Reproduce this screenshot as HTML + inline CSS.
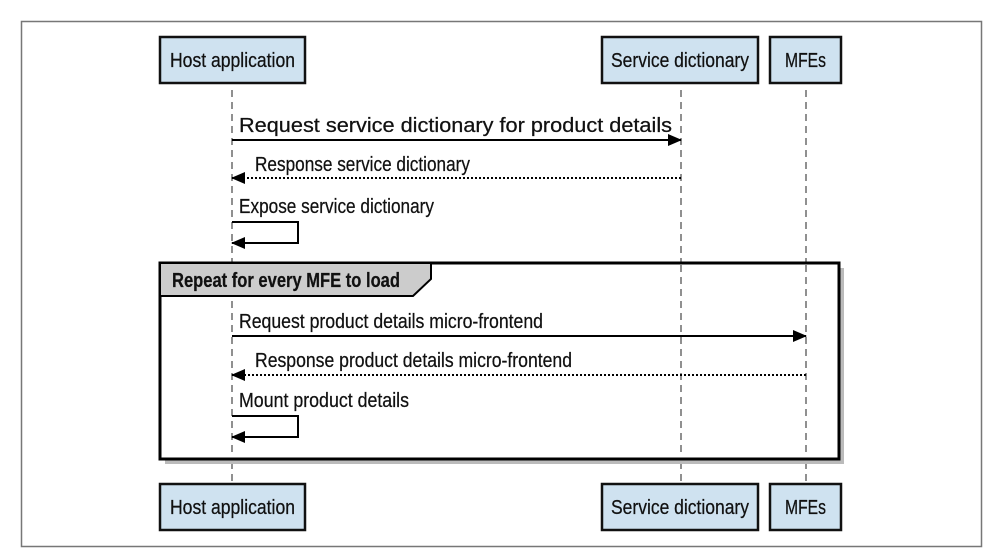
<!DOCTYPE html>
<html><head><meta charset="utf-8"><style>
html,body{margin:0;padding:0;background:#fff;}
svg{display:block;}
text{font-family:"Liberation Sans",sans-serif;font-size:20px;fill:#111;stroke:#111;stroke-width:0.25;}
</style></head><body>
<svg width="1002" height="560" viewBox="0 0 1002 560" xmlns="http://www.w3.org/2000/svg">
<defs>
<marker id="a" markerWidth="14" markerHeight="12" refX="13" refY="6" orient="auto" markerUnits="userSpaceOnUse"><path d="M0,0 L14,6 L0,12 Z" fill="#000"/></marker>
</defs>
<rect x="21.5" y="21.5" width="960" height="525" fill="#fff" stroke="#777" stroke-width="1.5"/>
<g stroke="#222" stroke-width="1" stroke-dasharray="7,5">
<line x1="232" y1="90" x2="232" y2="483"/>
<line x1="681" y1="90" x2="681" y2="483"/>
<line x1="806" y1="90" x2="806" y2="483"/>
</g>
<g fill="#cfe2f0" stroke="#111" stroke-width="2.5">
<rect x="160" y="37" width="145" height="46"/>
<rect x="602" y="37" width="156" height="46"/>
<rect x="770" y="37" width="71" height="46"/>
<rect x="160" y="484" width="145" height="46"/>
<rect x="602" y="484" width="156" height="46"/>
<rect x="770" y="484" width="71" height="46"/>
</g>
<text x="170" y="67" textLength="125" lengthAdjust="spacingAndGlyphs">Host application</text>
<text x="611" y="67" textLength="138" lengthAdjust="spacingAndGlyphs">Service dictionary</text>
<text x="785" y="67" textLength="41" lengthAdjust="spacingAndGlyphs">MFEs</text>
<text x="170" y="514" textLength="125" lengthAdjust="spacingAndGlyphs">Host application</text>
<text x="611" y="514" textLength="138" lengthAdjust="spacingAndGlyphs">Service dictionary</text>
<text x="785" y="514" textLength="41" lengthAdjust="spacingAndGlyphs">MFEs</text>
<text x="239" y="132" textLength="433" lengthAdjust="spacingAndGlyphs">Request service dictionary for product details</text>
<line x1="232" y1="140" x2="681" y2="140" stroke="#000" stroke-width="2" marker-end="url(#a)"/>
<text x="255" y="171" textLength="215" lengthAdjust="spacingAndGlyphs">Response service dictionary</text>
<line x1="681" y1="178" x2="232" y2="178" stroke="#000" stroke-width="2" stroke-dasharray="2,2" marker-end="url(#a)"/>
<text x="239" y="213" textLength="195" lengthAdjust="spacingAndGlyphs">Expose service dictionary</text>
<polyline points="232,222 298,222 298,243 232,243" fill="none" stroke="#000" stroke-width="2" marker-end="url(#a)"/>
<rect x="165" y="268" width="679" height="196" fill="#bbb"/>
<rect x="160" y="263" width="679" height="196" fill="#fff" stroke="#000" stroke-width="3"/>
<line x1="232" y1="265" x2="232" y2="457" stroke="#222" stroke-width="1" stroke-dasharray="7,5"/>
<line x1="681" y1="265" x2="681" y2="457" stroke="#222" stroke-width="1" stroke-dasharray="7,5"/>
<line x1="806" y1="265" x2="806" y2="457" stroke="#222" stroke-width="1" stroke-dasharray="7,5"/>
<path d="M160,263 L431,263 L431,279 L413,296 L160,296 Z" fill="#ccc" stroke="#000" stroke-width="2"/>
<text x="172" y="287" textLength="228" lengthAdjust="spacingAndGlyphs" style="font-weight:bold">Repeat for every MFE to load</text>
<text x="239" y="328" textLength="304" lengthAdjust="spacingAndGlyphs">Request product details micro-frontend</text>
<line x1="232" y1="336" x2="806" y2="336" stroke="#000" stroke-width="2" marker-end="url(#a)"/>
<text x="255" y="367" textLength="317" lengthAdjust="spacingAndGlyphs">Response product details micro-frontend</text>
<line x1="806" y1="375" x2="232" y2="375" stroke="#000" stroke-width="2" stroke-dasharray="2,2" marker-end="url(#a)"/>
<text x="239" y="407" textLength="170" lengthAdjust="spacingAndGlyphs">Mount product details</text>
<polyline points="232,416 298,416 298,437 232,437" fill="none" stroke="#000" stroke-width="2" marker-end="url(#a)"/>
</svg>
</body></html>
